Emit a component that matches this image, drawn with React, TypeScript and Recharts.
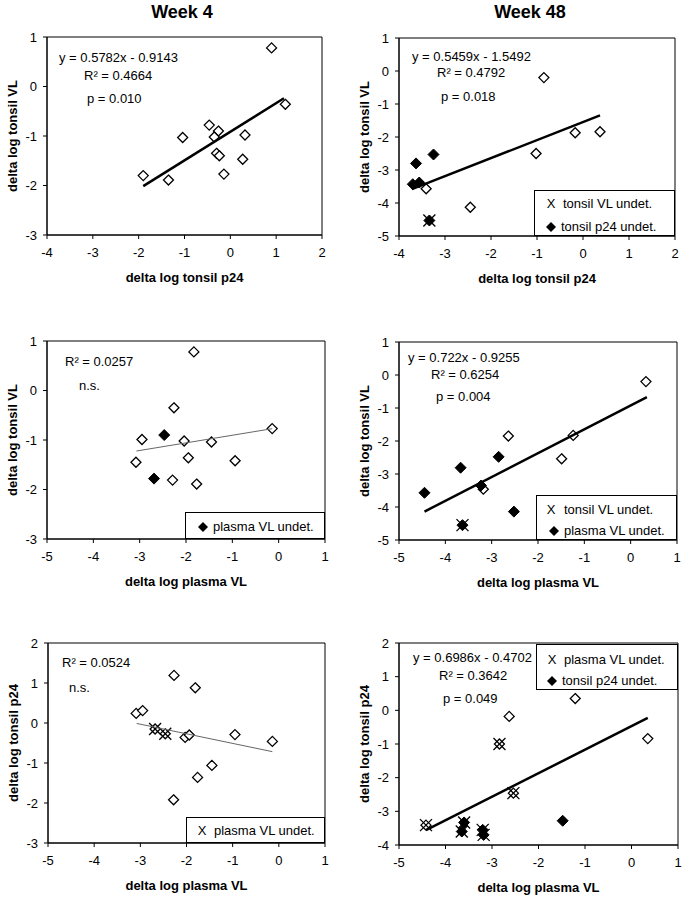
import { ScatterChart, Scatter, XAxis, YAxis, ReferenceArea, Label } from "recharts";

type Pt = [number, number];

// Week 4: delta log tonsil p24 (x) vs delta log tonsil VL (y)
const wk4P24VlOpen: Pt[] = [
  [0.9, 0.78], [1.2, -0.36], [-0.46, -0.78], [-0.26, -0.9], [-0.35, -1.02],
  [-1.04, -1.03], [0.32, -0.98], [-0.3, -1.35], [-0.24, -1.4], [0.27, -1.47],
  [-0.14, -1.77], [-1.9, -1.8], [-1.35, -1.89],
];
const wk4P24VlFit = { slope: 0.5782, intercept: -0.9143, from: -1.9, to: 1.17 };

// Week 48: delta log tonsil p24 (x) vs delta log tonsil VL (y)
const wk48P24VlOpen: Pt[] = [
  [-0.85, -0.2], [-0.17, -1.87], [0.37, -1.84], [-1.02, -2.5], [-2.45, -4.13], [-3.41, -3.57],
];
const wk48P24VlFilled: Pt[] = [
  [-3.63, -2.8], [-3.25, -2.53], [-3.7, -3.43], [-3.56, -3.38], [-3.34, -4.53],
];
const wk48P24VlCross: Pt[] = [[-3.34, -4.53]];
const wk48P24VlFit = { slope: 0.5459, intercept: -1.5492, from: -3.72, to: 0.37 };

// Week 4: delta log plasma VL (x) vs delta log tonsil VL (y)
const wk4PlVlOpen: Pt[] = [
  [-1.83, 0.78], [-2.26, -0.35], [-0.14, -0.77], [-2.95, -0.99], [-2.04, -1.02],
  [-1.45, -1.04], [-1.95, -1.36], [-0.94, -1.42], [-3.08, -1.45], [-2.29, -1.81], [-1.77, -1.89],
];
const wk4PlVlFilled: Pt[] = [[-2.47, -0.9], [-2.69, -1.78]];
const wk4PlVlFit = { slope: 0.154, intercept: -0.75, from: -3.07, to: -0.14 };

// Week 48: delta log plasma VL (x) vs delta log tonsil VL (y)
const wk48PlVlOpen: Pt[] = [
  [0.33, -0.2], [-1.24, -1.83], [-2.64, -1.85], [-1.49, -2.54], [-3.18, -3.46],
];
const wk48PlVlFilled: Pt[] = [
  [-2.85, -2.48], [-3.67, -2.81], [-3.23, -3.35], [-4.45, -3.57], [-2.52, -4.14], [-3.63, -4.55],
];
const wk48PlVlCross: Pt[] = [[-3.63, -4.55]];
const wk48PlVlFit = { slope: 0.722, intercept: -0.9255, from: -4.45, to: 0.35 };

// Week 4: delta log plasma VL (x) vs delta log tonsil p24 (y)
const wk4PlP24Open: Pt[] = [
  [-2.27, 1.19], [-1.81, 0.88], [-3.09, 0.24], [-2.95, 0.31], [-2.03, -0.36],
  [-1.94, -0.3], [-0.95, -0.29], [-0.14, -0.46], [-1.45, -1.06], [-1.76, -1.36],
  [-2.28, -1.92], [-2.68, -0.15], [-2.46, -0.27],
];
const wk4PlP24Cross: Pt[] = [[-2.68, -0.15], [-2.46, -0.27]];
const wk4PlP24Fit = { slope: -0.24, intercept: -0.75, from: -3.08, to: -0.14 };

// Week 48: delta log plasma VL (x) vs delta log tonsil p24 (y)
const wk48PlP24Open: Pt[] = [
  [-1.21, 0.35], [-2.63, -0.18], [0.35, -0.84], [-2.84, -1.0], [-2.54, -2.46], [-4.42, -3.41],
];
const wk48PlP24Filled: Pt[] = [
  [-1.48, -3.28], [-3.6, -3.33], [-3.65, -3.6], [-3.2, -3.55], [-3.18, -3.7],
];
const wk48PlP24Cross: Pt[] = [
  [-2.84, -1.0], [-2.54, -2.46], [-4.42, -3.41], [-3.6, -3.33], [-3.65, -3.6], [-3.2, -3.55], [-3.18, -3.7],
];
const wk48PlP24Fit = { slope: 0.6986, intercept: -0.4702, from: -4.42, to: 0.35 };

const ticks4to2 = [-4, -3, -2, -1, 0, 1, 2];
const ticks5to1 = [-5, -4, -3, -2, -1, 0, 1];

const FONT = '"Liberation Sans", Arial, sans-serif';

const toXY = (pts: Pt[]) => pts.map(([x, y]) => ({ x, y }));

const OpenDiamond = (p: any) => (
  <polygon
    points={`${p.cx},${p.cy - 5} ${p.cx + 5},${p.cy} ${p.cx},${p.cy + 5} ${p.cx - 5},${p.cy}`}
    fill="#fff"
    stroke="#000"
    strokeWidth={1.3}
  />
);

const FilledDiamond = (p: any) => (
  <polygon
    points={`${p.cx},${p.cy - 5.5} ${p.cx + 5.5},${p.cy} ${p.cx},${p.cy + 5.5} ${p.cx - 5.5},${p.cy}`}
    fill="#000"
    stroke="#000"
  />
);

const Cross = (p: any) => (
  <g stroke="#000" strokeWidth={1.3}>
    <line x1={p.cx - 6} y1={p.cy - 6} x2={p.cx + 6} y2={p.cy + 6} />
    <line x1={p.cx - 6} y1={p.cy + 6} x2={p.cx + 6} y2={p.cy - 6} />
  </g>
);

const NoDot = () => <g />;

interface Fit {
  slope: number;
  intercept: number;
  from: number;
  to: number;
}

interface LegendRow {
  mark: "x" | "diamond";
  text: string;
  markX: number;
  textX: number;
  cy: number;
}

interface PanelProps {
  left: number;
  top: number;
  width: number;
  height: number;
  plot: { l: number; t: number; r: number; b: number };
  xDomain: [number, number];
  yDomain: [number, number];
  xTicks: number[];
  yTicks: number[];
  xLabel: string;
  yLabel: string;
  open?: Pt[];
  filled?: Pt[];
  cross?: Pt[];
  fit: Fit;
  thinFit?: boolean;
  notes: { text: string; x: number; cy: number }[];
  legend?: { x: number; y: number; w: number; h: number; rows: LegendRow[] };
}

function Panel(props: PanelProps) {
  const { plot, fit, width, height } = props;
  const fitData = [
    { x: fit.from, y: fit.slope * fit.from + fit.intercept },
    { x: fit.to, y: fit.slope * fit.to + fit.intercept },
  ];
  const tickStyle = { fill: "#000", fontSize: 13, fontFamily: FONT };
  const titleStyle = { fontSize: 13, fontWeight: 700, fontFamily: FONT, fill: "#000" };
  return (
    <div style={{ position: "absolute", left: props.left, top: props.top, width, height }}>
      <ScatterChart
        width={width}
        height={height}
        margin={{ top: plot.t, right: width - plot.r, bottom: 0, left: 0 }}
      >
        <XAxis
          type="number"
          dataKey="x"
          domain={props.xDomain}
          ticks={props.xTicks}
          interval={0}
          allowDataOverflow
          height={height - plot.b}
          tick={tickStyle}
          tickSize={4}
          tickMargin={9}
          axisLine={{ stroke: "#000" }}
          tickLine={{ stroke: "#000" }}
        >
          <Label
            content={() => (
              <text x={(plot.l + plot.r) / 2} y={plot.b + 47} textAnchor="middle" style={titleStyle}>
                {props.xLabel}
              </text>
            )}
          />
        </XAxis>
        <YAxis
          type="number"
          dataKey="y"
          domain={props.yDomain}
          ticks={props.yTicks}
          interval={0}
          allowDataOverflow
          width={plot.l}
          tick={tickStyle}
          tickSize={4}
          tickMargin={6}
          axisLine={{ stroke: "#000" }}
          tickLine={{ stroke: "#000" }}
        >
          <Label
            content={() => {
              const cx = plot.l - 35;
              const cy = (plot.t + plot.b) / 2;
              return (
                <text
                  x={cx}
                  y={cy}
                  textAnchor="middle"
                  dominantBaseline="central"
                  transform={`rotate(-90 ${cx} ${cy})`}
                  style={titleStyle}
                >
                  {props.yLabel}
                </text>
              );
            }}
          />
        </YAxis>
        <ReferenceArea
          x1={props.xDomain[0]}
          x2={props.xDomain[1]}
          y1={props.yDomain[0]}
          y2={props.yDomain[1]}
          fill="none"
          stroke="#000"
          strokeWidth={1}
          ifOverflow="visible"
        />
        {props.open && (
          <Scatter data={toXY(props.open)} shape={OpenDiamond} isAnimationActive={false} />
        )}
        {props.filled && (
          <Scatter data={toXY(props.filled)} shape={FilledDiamond} isAnimationActive={false} />
        )}
        {props.cross && (
          <Scatter data={toXY(props.cross)} shape={Cross} isAnimationActive={false} />
        )}
        <Scatter
          data={fitData}
          shape={NoDot}
          line={{
            stroke: props.thinFit ? "#666" : "#000",
            strokeWidth: props.thinFit ? 1 : 2.5,
          }}
          isAnimationActive={false}
        />
      </ScatterChart>
      {props.notes.map((n, i) => (
        <div
          key={i}
          style={{
            position: "absolute",
            left: n.x,
            top: n.cy - 8,
            lineHeight: "16px",
            fontSize: 13,
            fontFamily: FONT,
            whiteSpace: "nowrap",
            color: "#000",
          }}
        >
          {n.text}
        </div>
      ))}
      {props.legend && (
        <div
          style={{
            position: "absolute",
            left: props.legend.x,
            top: props.legend.y,
            width: props.legend.w,
            height: props.legend.h,
            border: "1px solid #000",
            boxSizing: "border-box",
            background: "#fff",
          }}
        >
          {props.legend.rows.map((r, i) => (
            <div key={i}>
              {r.mark === "x" ? (
                <div
                  style={{
                    position: "absolute",
                    left: r.markX - 5,
                    top: r.cy - 8,
                    width: 10,
                    textAlign: "center",
                    lineHeight: "16px",
                    fontSize: 13,
                    fontFamily: FONT,
                  }}
                >
                  X
                </div>
              ) : (
                <svg
                  width={10}
                  height={10}
                  style={{ position: "absolute", left: r.markX - 5, top: r.cy - 5 }}
                >
                  <polygon points="5,0 10,5 5,10 0,5" fill="#000" />
                </svg>
              )}
              <div
                style={{
                  position: "absolute",
                  left: r.textX,
                  top: r.cy - 8,
                  lineHeight: "16px",
                  fontSize: 13,
                  fontFamily: FONT,
                  whiteSpace: "nowrap",
                }}
              >
                {r.text}
              </div>
            </div>
          ))}
        </div>
      )}
    </div>
  );
}

const weekTitle = {
  position: "absolute" as const,
  top: 2,
  width: 120,
  textAlign: "center" as const,
  fontSize: 18,
  fontWeight: 700,
  fontFamily: FONT,
  lineHeight: "20px",
};

export default function App() {
  return (
    <div style={{ position: "absolute", left: 0, top: 0, width: 685, height: 900, background: "#fff" }}>
      <div style={{ ...weekTitle, left: 182 - 60 }}>Week 4</div>
      <div style={{ ...weekTitle, left: 530 - 60 }}>Week 48</div>

      <Panel
        left={0}
        top={0}
        width={340}
        height={300}
        plot={{ l: 47, t: 37, r: 322, b: 235 }}
        xDomain={[-4, 2]}
        yDomain={[-3, 1]}
        xTicks={ticks4to2}
        yTicks={[-3, -2, -1, 0, 1]}
        xLabel="delta log tonsil p24"
        yLabel="delta log tonsil VL"
        open={wk4P24VlOpen}
        fit={wk4P24VlFit}
        notes={[
          { text: "y = 0.5782x - 0.9143", x: 59, cy: 58 },
          { text: "R² = 0.4664", x: 84, cy: 76 },
          { text: "p = 0.010", x: 87, cy: 99 },
        ]}
      />

      <Panel
        left={340}
        top={0}
        width={345}
        height={300}
        plot={{ l: 59, t: 38, r: 335, b: 236 }}
        xDomain={[-4, 2]}
        yDomain={[-5, 1]}
        xTicks={ticks4to2}
        yTicks={[-5, -4, -3, -2, -1, 0, 1]}
        xLabel="delta log tonsil p24"
        yLabel="delta log tonsil VL"
        open={wk48P24VlOpen}
        filled={wk48P24VlFilled}
        cross={wk48P24VlCross}
        fit={wk48P24VlFit}
        notes={[
          { text: "y = 0.5459x - 1.5492", x: 72, cy: 57 },
          { text: "R² = 0.4792", x: 97, cy: 73 },
          { text: "p = 0.018", x: 101, cy: 97 },
        ]}
        legend={{
          x: 194,
          y: 190,
          w: 141,
          h: 46,
          rows: [
            { mark: "x", text: "tonsil VL undet.", markX: 16, textX: 28, cy: 13 },
            { mark: "diamond", text: "tonsil p24 undet.", markX: 16, textX: 26, cy: 36 },
          ],
        }}
      />

      <Panel
        left={0}
        top={300}
        width={340}
        height={300}
        plot={{ l: 47, t: 41, r: 325, b: 239 }}
        xDomain={[-5, 1]}
        yDomain={[-3, 1]}
        xTicks={ticks5to1}
        yTicks={[-3, -2, -1, 0, 1]}
        xLabel="delta log plasma VL"
        yLabel="delta log tonsil VL"
        open={wk4PlVlOpen}
        filled={wk4PlVlFilled}
        fit={wk4PlVlFit}
        thinFit
        notes={[
          { text: "R² = 0.0257", x: 65, cy: 62 },
          { text: "n.s.", x: 79, cy: 86 },
        ]}
        legend={{
          x: 185,
          y: 212,
          w: 140,
          h: 27,
          rows: [{ mark: "diamond", text: "plasma VL undet.", markX: 17, textX: 27, cy: 14 }],
        }}
      />

      <Panel
        left={340}
        top={300}
        width={345}
        height={300}
        plot={{ l: 59, t: 42, r: 337, b: 240 }}
        xDomain={[-5, 1]}
        yDomain={[-5, 1]}
        xTicks={ticks5to1}
        yTicks={[-5, -4, -3, -2, -1, 0, 1]}
        xLabel="delta log plasma VL"
        yLabel="delta log tonsil VL"
        open={wk48PlVlOpen}
        filled={wk48PlVlFilled}
        cross={wk48PlVlCross}
        fit={wk48PlVlFit}
        notes={[
          { text: "y = 0.722x - 0.9255", x: 68, cy: 58 },
          { text: "R² = 0.6254", x: 91, cy: 75 },
          { text: "p = 0.004", x: 96, cy: 97 },
        ]}
        legend={{
          x: 196,
          y: 195,
          w: 141,
          h: 45,
          rows: [
            { mark: "x", text: "tonsil VL undet.", markX: 14, textX: 27, cy: 14 },
            { mark: "diamond", text: "plasma VL undet.", markX: 17, textX: 27, cy: 35 },
          ],
        }}
      />

      <Panel
        left={0}
        top={600}
        width={340}
        height={300}
        plot={{ l: 48, t: 43, r: 325, b: 243 }}
        xDomain={[-5, 1]}
        yDomain={[-3, 2]}
        xTicks={ticks5to1}
        yTicks={[-3, -2, -1, 0, 1, 2]}
        xLabel="delta log plasma VL"
        yLabel="delta log tonsil p24"
        open={wk4PlP24Open}
        cross={wk4PlP24Cross}
        fit={wk4PlP24Fit}
        thinFit
        notes={[
          { text: "R² = 0.0524", x: 62, cy: 63 },
          { text: "n.s.", x: 69, cy: 88 },
        ]}
        legend={{
          x: 186,
          y: 217,
          w: 139,
          h: 26,
          rows: [{ mark: "x", text: "plasma VL undet.", markX: 15, textX: 27, cy: 13 }],
        }}
      />

      <Panel
        left={340}
        top={600}
        width={345}
        height={300}
        plot={{ l: 59, t: 43, r: 338, b: 245 }}
        xDomain={[-5, 1]}
        yDomain={[-4, 2]}
        xTicks={ticks5to1}
        yTicks={[-4, -3, -2, -1, 0, 1, 2]}
        xLabel="delta log plasma VL"
        yLabel="delta log tonsil p24"
        open={wk48PlP24Open}
        filled={wk48PlP24Filled}
        cross={wk48PlP24Cross}
        fit={wk48PlP24Fit}
        notes={[
          { text: "y = 0.6986x - 0.4702", x: 73, cy: 58 },
          { text: "R² = 0.3642", x: 99, cy: 76 },
          { text: "p = 0.049", x: 103, cy: 99 },
        ]}
        legend={{
          x: 196,
          y: 44,
          w: 142,
          h: 46,
          rows: [
            { mark: "x", text: "plasma VL undet.", markX: 15, textX: 27, cy: 15 },
            { mark: "diamond", text: "tonsil p24 undet.", markX: 15, textX: 25, cy: 36 },
          ],
        }}
      />
    </div>
  );
}
